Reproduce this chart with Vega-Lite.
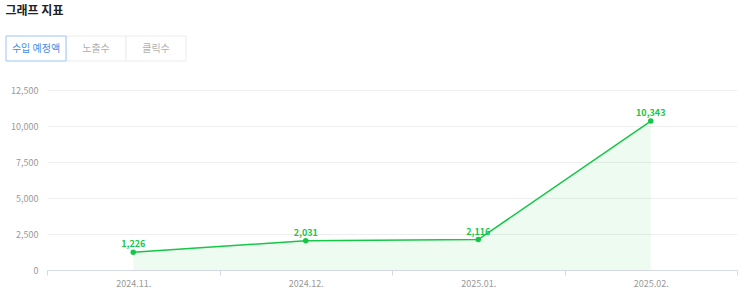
{
  "$schema": "https://vega.github.io/schema/vega-lite/v6.json",
  "padding": {"left": 5, "top": 4, "right": 6, "bottom": 0},
  "background": "#ffffff",
  "title": {"text": "그래프 지표", "anchor": "start", "fontSize": 12, "fontWeight": "bold", "color": "#222222", "font": "Noto Sans CJK KR", "offset": 18},
  "spacing": 24,
  "config": {"view": {"stroke": null}, "font": "Noto Sans CJK KR"},
  "vconcat": [
    {
      "width": 180,
      "height": 25,
      "data": {"values": [
        {"tab": "수입 예정액", "selected": "yes"},
        {"tab": "노출수", "selected": "no"},
        {"tab": "클릭수", "selected": "no"}
      ]},
      "encoding": {
        "x": {"field": "tab", "type": "nominal", "sort": null, "axis": null, "scale": {"paddingInner": 0, "paddingOuter": 0, "range": [-41, 139]}}
      },
      "layer": [
        {"mark": {"type": "rect", "fill": "#ffffff", "strokeWidth": 1},
         "encoding": {"stroke": {"field": "selected", "type": "nominal", "scale": {"domain": ["yes", "no"], "range": ["#9cc6f5", "#ececec"]}, "legend": null}, "order": {"field": "selected", "sort": "ascending"}}},
        {"mark": {"type": "text", "fontSize": 10, "baseline": "middle", "dy": 0},
         "encoding": {"text": {"field": "tab"}, "y": {"value": 12.5}, "color": {"field": "selected", "type": "nominal", "scale": {"domain": ["yes", "no"], "range": ["#3f8fe6", "#b0b0b0"]}, "legend": null}}}
      ]
    },
    {
      "width": 690,
      "height": 180,
      "data": {"values": [
        {"month": "2024.11.", "amount": 1226},
        {"month": "2024.12.", "amount": 2031},
        {"month": "2025.01.", "amount": 2116},
        {"month": "2025.02.", "amount": 10343}
      ]},
      "encoding": {
        "x": {"field": "month", "type": "ordinal", "scale": {"type": "band", "paddingInner": 0, "paddingOuter": 0},
              "axis": {"title": null, "labelAngle": 0, "labelColor": "#999999", "labelFontSize": 9, "domainColor": "#d5d9e6", "tickColor": "#d5d9e6", "tickBand": "extent", "tickSize": 5, "labelPadding": 4, "grid": false}},
        "y": {"field": "amount", "type": "quantitative", "scale": {"domain": [0, 12500]},
              "axis": {"title": null, "values": [0, 2500, 5000, 7500, 10000, 12500], "format": ",d", "labelColor": "#999999", "labelFontSize": 9, "ticks": false, "domain": false, "gridColor": "#eeeeee", "labelPadding": 9, "minExtent": 41, "maxExtent": 41}}
      },
      "layer": [
        {"mark": {"type": "area", "color": "#00c73c", "opacity": 0.07}},
        {"mark": {"type": "line", "color": "#14c746", "strokeWidth": 1.5}},
        {"mark": {"type": "point", "filled": true, "color": "#14c746", "size": 30, "opacity": 1}},
        {"mark": {"type": "text", "color": "#14c746", "fontWeight": "bold", "fontSize": 9, "dy": -8},
         "encoding": {"text": {"field": "amount", "type": "quantitative", "format": ","}}}
      ]
    }
  ]
}
